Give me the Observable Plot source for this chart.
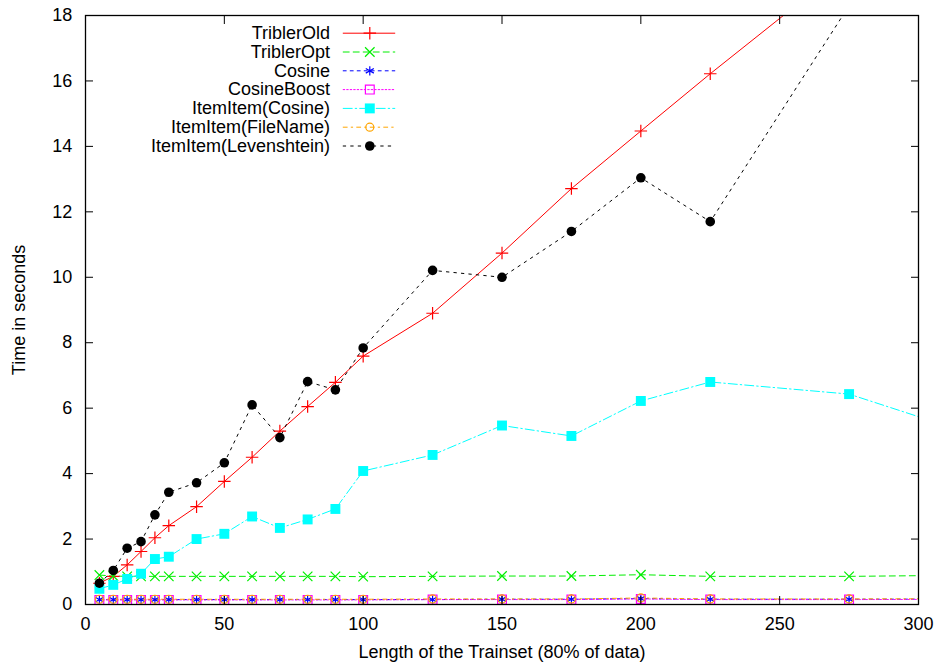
<!DOCTYPE html>
<html>
<head>
<meta charset="utf-8">
<script src="https://cdn.jsdelivr.net/npm/d3@7"></script>
<script src="https://cdn.jsdelivr.net/npm/@observablehq/plot@0.6"></script>
<style>
  body { margin: 0; background: #fff; }
  #chart svg { font-family: "Liberation Sans", Arial, sans-serif; }
</style>
</head>
<body>
<div id="chart"></div>
<script>
// ---- data ----
const trainset = [5, 10, 15, 20, 25, 30, 40, 50, 60, 70, 80, 90, 100, 125, 150, 175, 200, 225, 275, 325];
const seriesNames = ["TriblerOld", "TriblerOpt", "Cosine", "CosineBoost", "ItemItem(Cosine)", "ItemItem(FileName)", "ItemItem(Levenshtein)"];
const triblerOld   = [0.65, 0.86, 1.21, 1.62, 2.04, 2.41, 2.99, 3.76, 4.50, 5.30, 6.05, 6.79, 7.59, 8.90, 10.74, 12.71, 14.47, 16.22, 19.6, 22.5];
const triblerOpt   = [0.90, 0.87, 0.86, 0.86, 0.86, 0.86, 0.86, 0.86, 0.86, 0.86, 0.86, 0.86, 0.85, 0.86, 0.87, 0.87, 0.91, 0.86, 0.86, 0.90];
const cosine       = [0.15, 0.15, 0.15, 0.15, 0.15, 0.15, 0.15, 0.15, 0.15, 0.15, 0.15, 0.15, 0.15, 0.15, 0.16, 0.16, 0.18, 0.16, 0.16, 0.17];
const cosineBoost  = [0.14, 0.14, 0.14, 0.14, 0.14, 0.14, 0.14, 0.14, 0.14, 0.14, 0.14, 0.14, 0.14, 0.15, 0.15, 0.15, 0.17, 0.15, 0.15, 0.16];
const itemCosine   = [0.48, 0.60, 0.78, 0.94, 1.39, 1.46, 2.00, 2.16, 2.69, 2.34, 2.60, 2.92, 4.08, 4.57, 5.47, 5.15, 6.22, 6.80, 6.43, 5.05];
const itemFileName = [0.16, 0.16, 0.16, 0.16, 0.16, 0.16, 0.16, 0.16, 0.16, 0.16, 0.16, 0.16, 0.16, 0.17, 0.17, 0.17, 0.20, 0.17, 0.17, 0.18];
const itemLevensh  = [0.65, 1.04, 1.72, 1.92, 2.74, 3.43, 3.72, 4.33, 6.10, 5.10, 6.81, 6.56, 7.84, 10.21, 10.00, 11.40, 13.04, 11.70, 18.3, 23.0];
const xTicks = [0, 50, 100, 150, 200, 250, 300];
const yTicks = [0, 2, 4, 6, 8, 10, 12, 14, 16, 18];
const xLabel = "Length of the Trainset (80% of data)";
const yLabel = "Time in seconds";

// ---- styles ----
const seriesValues = [triblerOld, triblerOpt, cosine, cosineBoost, itemCosine, itemFileName, itemLevensh];
const styles = [
  {color: "#ff0000", dash: null,          symbol: "plus",     r: 4.1, filled: false},
  {color: "#00ee00", dash: "6,4",         symbol: "times",    r: 4.4, filled: false},
  {color: "#0000ff", dash: "3,4",         symbol: "asterisk", r: 4.4, filled: false},
  {color: "#ff00ff", dash: "1.5,2",       symbol: "square2",  r: 5.6, filled: false},
  {color: "#00ffff", dash: "9,3,1.5,3",   symbol: "square",   r: 5.6, filled: true},
  {color: "#ffa500", dash: "4,4,1.5,4",   symbol: "circle",   r: 4.0, filled: false},
  {color: "#000000", dash: "2.5,5",       symbol: "circle",   r: 4.8, filled: true}
];

const rows = [];
seriesNames.forEach((name, s) => {
  trainset.forEach((x, i) => rows.push({series: name, x, y: seriesValues[s][i]}));
});

const fontSize = 18;
const lineShape = {draw(context, l) { context.moveTo(0, 0); context.lineTo(0, -l); }};

const marks = [];
seriesNames.forEach((name, s) => {
  const st = styles[s];
  const data = rows.filter(d => d.series === name);
  marks.push(Plot.line(data, {x: "x", y: "y", stroke: st.color, strokeWidth: 1, strokeDasharray: st.dash, clip: true}));
});
seriesNames.forEach((name, s) => {
  const st = styles[s];
  const data = rows.filter(d => d.series === name);
  marks.push(Plot.dot(data, {
    x: "x", y: "y", symbol: st.symbol, r: st.r, clip: true,
    fill: st.filled ? st.color : "none",
    stroke: st.filled ? "none" : st.color,
    strokeWidth: 1.2
  }));
});

// legend (inside, top-left)
seriesNames.forEach((name, s) => {
  const st = styles[s];
  const dy = 17.7 + s * 18.8;
  marks.push(Plot.text([name], {text: d => d, frameAnchor: "top-left", dx: 244.5, dy, textAnchor: "end", lineAnchor: "middle", fontSize, fill: "#000"}));
  marks.push(Plot.vector([name], {frameAnchor: "top-left", dx: 257.7, dy, rotate: 90, length: 51.6, anchor: "start", shape: lineShape, stroke: st.color, strokeWidth: 1, strokeDasharray: st.dash}));
  marks.push(Plot.dot([name], {
    frameAnchor: "top-left", dx: 284.3, dy, symbol: st.symbol, r: st.r,
    fill: st.filled ? st.color : "none",
    stroke: st.filled ? "none" : st.color, strokeWidth: 1.2
  }));
});

const chart = Plot.plot({
  width: 940,
  height: 665,
  marginLeft: 85,
  marginRight: 22,
  marginTop: 15,
  marginBottom: 61,
  style: {fontFamily: '"Liberation Sans", Arial, sans-serif', fontSize: fontSize + "px", background: "#fff", color: "#000"},
  x: {domain: [0, 300]},
  y: {domain: [0, 18]},
  marks: [
    ...marks,
    Plot.frame({stroke: "#000", strokeWidth: 1.3}),
    Plot.axisX({ticks: xTicks, anchor: "bottom", tickSize: -8, tickPadding: 20.7, fontSize, label: xLabel, labelAnchor: "center", labelOffset: 53, labelArrow: "none"}),
    Plot.axisX({ticks: xTicks, anchor: "top", tickSize: -8, tickFormat: () => "", label: null}),
    Plot.axisY({ticks: yTicks, anchor: "left", tickSize: -8, tickPadding: 21.3, fontSize, label: yLabel, labelAnchor: "center", labelOffset: 73, labelArrow: "none"}),
    Plot.axisY({ticks: yTicks, anchor: "right", tickSize: -8, tickFormat: () => "", label: null})
  ]
});
document.getElementById("chart").appendChild(chart);
</script>
</body>
</html>
